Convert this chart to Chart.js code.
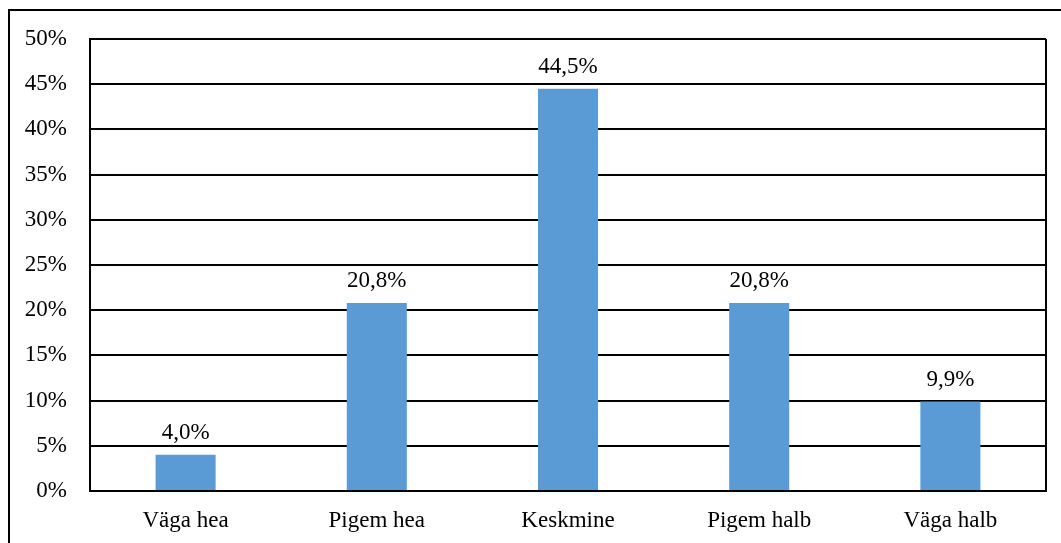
<!DOCTYPE html>
<html>
<head>
<meta charset="utf-8">
<script src="https://cdn.jsdelivr.net/npm/chart.js@4/dist/chart.umd.min.js"></script>
<style>
  html, body { margin: 0; padding: 0; background: #fff; }
  #wrap { position: relative; width: 1061px; height: 543px; }
</style>
</head>
<body>
<div id="wrap"><canvas id="c" width="1061" height="543"></canvas></div>
<script>
const categories = ['Väga hea', 'Pigem hea', 'Keskmine', 'Pigem halb', 'Väga halb'];
const shares = [4.0, 20.8, 44.5, 20.8, 9.9];

const FONT = '"Liberation Serif", "Times New Roman", serif';
const fmt = v => v.toFixed(1).replace('.', ',') + '%';

// outer frame plus the box around the plot area
const framePlugin = {
  id: 'frame',
  beforeDraw(chart) {
    const ctx = chart.ctx;
    ctx.save();
    ctx.fillStyle = '#fff';
    ctx.fillRect(0, 0, chart.width, chart.height);
    ctx.strokeStyle = '#000';
    ctx.lineWidth = 2;
    ctx.beginPath();
    ctx.moveTo(9, chart.height + 5);
    ctx.lineTo(9, 10);
    ctx.lineTo(chart.width + 5, 10);
    ctx.stroke();
    ctx.restore();
  },
  afterDatasetsDraw(chart) {
    const ctx = chart.ctx;
    const a = chart.chartArea;
    ctx.save();
    ctx.strokeStyle = '#000';
    ctx.lineWidth = 2;
    ctx.beginPath();
    ctx.moveTo(a.right, a.top);
    ctx.lineTo(a.right, a.bottom);
    ctx.stroke();
    // value labels above bars
    ctx.fillStyle = '#000';
    ctx.font = '23px ' + FONT;
    ctx.textAlign = 'center';
    ctx.textBaseline = 'alphabetic';
    const meta = chart.getDatasetMeta(0);
    meta.data.forEach((bar, i) => {
      ctx.fillText(fmt(shares[i]), bar.x, bar.y - 16);
    });
    ctx.restore();
  }
};

new Chart(document.getElementById('c'), {
  type: 'bar',
  data: {
    labels: categories,
    datasets: [{
      data: shares,
      backgroundColor: '#5B9BD5',
      borderWidth: 0,
      barPercentage: 0.314,
      categoryPercentage: 1.0
    }]
  },
  options: {
    responsive: false,
    animation: false,
    layout: { padding: { top: 39, right: 15, left: 0, bottom: 0 } },
    plugins: { legend: { display: false }, tooltip: { enabled: false } },
    scales: {
      x: {
        grid: { display: false, drawTicks: false },
        border: { color: '#000', width: 2 },
        ticks: {
          color: '#000',
          padding: 16,
          font: { family: FONT, size: 23 }
        },
        afterFit(scale) { scale.height = 52; }
      },
      y: {
        min: 0,
        max: 50,
        grid: { color: '#000', lineWidth: 2, drawTicks: false },
        border: { color: '#000', width: 2 },
        ticks: {
          stepSize: 5,
          color: '#000',
          padding: 23,
          callback: v => v + '%',
          font: { family: FONT, size: 23 }
        },
        afterFit(scale) { scale.width = 90; }
      }
    }
  },
  plugins: [framePlugin]
});
</script>
</body>
</html>
